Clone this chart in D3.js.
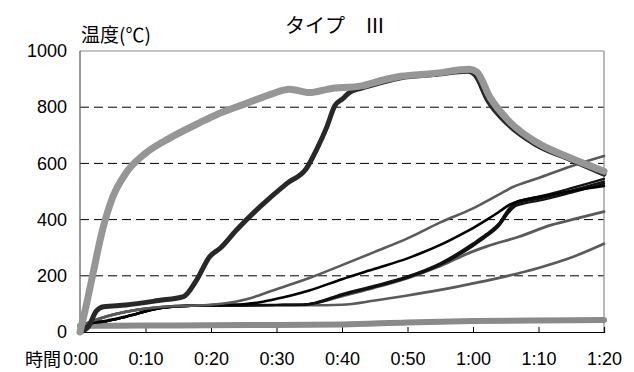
<!DOCTYPE html>
<html>
<head>
<meta charset="utf-8">
<script src="https://cdn.jsdelivr.net/npm/d3@7"></script>
<style>
  body { margin: 0; background: #fff; }
  svg { display: block; }
  text { font-family: "Liberation Sans", Arial, sans-serif; fill: #000; }
  .jp { font-family: "Noto Sans CJK JP", sans-serif; }
</style>
</head>
<body>
<div id="chart"></div>
<script>
// axis ticks
const xTicks = [0, 10, 20, 30, 40, 50, 60, 70, 80];   // minutes
const yTicks = [0, 200, 400, 600, 800, 1000];

// series: [minute, temperature]
const furnace = [[0,0],[1,100],[2,210],[3.3,350],[5,480],[7,565],[10,636],[13.7,690],[18.3,745],[21,775],[25,810],[29,845],[32,864],[35,852],[38,865],[43,876],[46,895],[49,910],[54,920],[59.5,935],[60.6,925],[62.6,835],[65.6,748],[69.7,675],[74.8,620],[80,572]];
const thickDark = [[0,0],[1.3,20],[2.5,75],[3.6,90],[7,96],[12,112],[15.8,126],[17.8,185],[19.8,268],[21.4,298],[23.9,363],[27.5,446],[31.6,529],[34.6,583],[36.1,648],[37.7,731],[38.9,805],[40.2,832],[41,850],[43,868],[46,888],[49,905],[54,916],[59.3,928],[60.3,915],[62.3,822],[65.3,740],[69.5,668],[74.8,614],[80,562]];
const greyTop = [[0,20],[1.5,35],[4,55],[7,72],[12,88],[17,94],[20,97],[23,105],[26,120],[27.5,132],[30,152],[35,192],[40,238],[45,285],[50,333],[55,390],[60,440],[64,490],[66,515],[70,548],[75,590],[80,626]];
const greyMid = [[0,20],[1.5,35],[4,55],[7,72],[12,88],[17,94],[25,95],[34,97],[36,103],[40,128],[45,158],[50,192],[55,235],[60,287],[62,304],[67,339],[72,381],[76,405],[80,428]];
const greyLow = [[0,20],[1.5,35],[4,55],[7,72],[12,88],[17,94],[25,95],[35,95],[40,97],[45,112],[50,130],[55,150],[60,173],[65,198],[70,228],[75,265],[80,314]];
const blackTop = [[0,20],[1.5,32],[4,40],[7,55],[12,84],[17,94],[22,97],[25,99],[27.5,106],[30,118],[35,148],[40,188],[45,225],[50,262],[52,280],[55,310],[58,345],[60,370],[62,398],[64,428],[65.5,452],[67,466],[70,480],[75,502],[80,520]];
const black1 = [[0,20],[1.5,30],[4,38],[7,54],[12,84],[17,93],[25,95],[30,96],[34,97],[36,105],[40,135],[45,165],[50,198],[55,245],[60,315],[62,348],[64,388],[65.5,440],[66.5,462],[68,472],[70,482],[75,512],[80,545]];
const black2 = [[0,20],[1.5,30],[4,38],[7,54],[12,84],[17,93],[25,95],[30,96],[34,97],[36,104],[40,132],[45,162],[50,195],[55,241],[60,310],[62,343],[64,382],[65.5,432],[66.5,455],[68,465],[70,474],[75,503],[80,535]];
const black3 = [[0,20],[1.5,30],[4,38],[7,54],[12,84],[17,93],[25,95],[30,96],[34,97],[36,103],[40,130],[45,160],[50,193],[55,238],[60,306],[62,339],[64,378],[65.5,426],[66.5,448],[68,458],[70,467],[75,496],[80,528]];
const bottomLine = [[0,22],[10,23],[20,24],[30,25],[40,27],[50,34],[60,39],[70,41],[80,43]];

const W = 634, H = 372;
const svg = d3.select('#chart').append('svg').attr('width', W).attr('height', H);

const x = d3.scaleLinear().domain([0, 80]).range([80, 604]);
const y = d3.scaleLinear().domain([0, 1000]).range([332, 51]);

// gridlines
svg.append('g').selectAll('line')
  .data(yTicks.filter(d => d > 0 && d < 1000))
  .enter().append('line')
  .attr('x1', x(0)).attr('x2', x(80))
  .attr('y1', d => y(d)).attr('y2', d => y(d))
  .attr('stroke', '#000').attr('stroke-width', 1)
  .attr('stroke-dasharray', '9,5');

// plot frame
svg.append('line').attr('x1', x(0)).attr('x2', x(80)).attr('y1', y(1000)).attr('y2', y(1000))
  .attr('stroke', '#8c8c8c').attr('stroke-width', 1.2);
svg.append('line').attr('x1', x(80)).attr('x2', x(80)).attr('y1', y(1000)).attr('y2', y(0))
  .attr('stroke', '#8c8c8c').attr('stroke-width', 1.2);
svg.append('line').attr('x1', x(0)).attr('x2', x(0)).attr('y1', y(1000)).attr('y2', y(0))
  .attr('stroke', '#555').attr('stroke-width', 1.2);

// x axis
const fmt = m => Math.floor(m / 60) + ':' + String(m % 60).padStart(2, '0');
const xAxis = d3.axisBottom(x).tickValues(xTicks).tickSize(-5).tickFormat(fmt);
const gx = svg.append('g').attr('transform', `translate(0,${y(0)})`).call(xAxis);
gx.select('.domain').attr('stroke', '#000').attr('stroke-width', 1.2);
gx.selectAll('.tick line').attr('stroke', '#000');
gx.selectAll('.tick text')
  .attr('y', 20).attr('font-size', 18).attr('font-family', '"Liberation Sans", Arial, sans-serif');

svg.append('text').attr('class', 'jp')
  .attr('x', x(0) - 19).attr('y', y(0) + 33.5)
  .attr('text-anchor', 'end').attr('font-size', 18)
  .text('時間');

// y axis labels
const yAxis = d3.axisLeft(y).tickValues(yTicks).tickSize(0).tickPadding(13).tickFormat(d3.format('d'));
const gy = svg.append('g').attr('transform', `translate(${x(0)},0)`).call(yAxis);
gy.select('.domain').remove();
gy.selectAll('.tick text').attr('font-size', 18).attr('font-family', '"Liberation Sans", Arial, sans-serif');

// series
const line = d3.line().x(d => x(d[0])).y(d => y(d[1])).curve(d3.curveMonotoneX);
const series = [
  { data: bottomLine, color: '#8a8a8a', width: 6 },
  { data: greyLow, color: '#5a5a5a', width: 2.6 },
  { data: greyMid, color: '#5a5a5a', width: 2.8 },
  { data: black3, color: '#111', width: 2.2 },
  { data: black2, color: '#111', width: 2.2 },
  { data: black1, color: '#111', width: 2.2 },
  { data: blackTop, color: '#000', width: 2.6 },
  { data: greyTop, color: '#5a5a5a', width: 2.6 },
  { data: thickDark, color: '#282828', width: 5 },
  { data: furnace, color: '#969696', width: 7 }
];
svg.append('g').selectAll('path')
  .data(series)
  .enter().append('path')
  .attr('d', d => line(d.data))
  .attr('fill', 'none')
  .attr('stroke', d => d.color)
  .attr('stroke-width', d => d.width)
  .attr('stroke-linejoin', 'round')
  .attr('stroke-linecap', 'round');

// titles
svg.append('text').attr('class', 'jp')
  .attr('x', 335).attr('y', 33)
  .attr('text-anchor', 'middle').attr('font-size', 20)
  .text('タイプ　Ⅲ');
svg.append('text').attr('class', 'jp')
  .attr('x', 81).attr('y', 42)
  .attr('font-size', 19)
  .text('温度(℃)');
</script>
</body>
</html>
